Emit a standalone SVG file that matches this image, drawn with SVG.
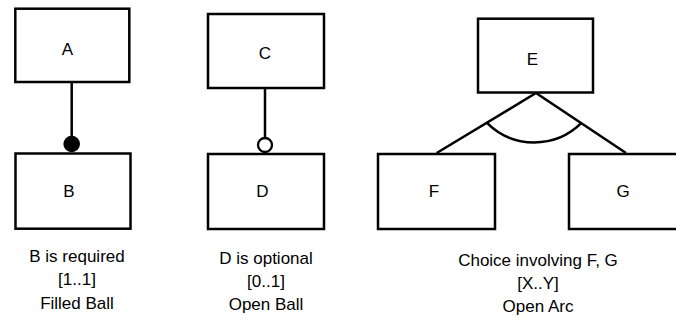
<svg xmlns="http://www.w3.org/2000/svg" width="676" height="322" viewBox="0 0 676 322">
  <style>
    .box { fill: #ffffff; stroke: #000000; stroke-width: 2.5; }
    .edge { fill: none; stroke: #000000; stroke-width: 2.5; }
    .name { font-family: "Liberation Sans", Arial, sans-serif; font-size: 17px; fill: #000000; text-anchor: middle; }
    .note { font-family: "Liberation Sans", Arial, sans-serif; font-size: 17px; fill: #000000; text-anchor: middle; }
  </style>
  <rect width="676" height="322" fill="#ffffff"/>

  <!-- connectors -->
  <g id="connectors">
    <!-- mandatory: filled ball -->
    <line class="edge" x1="71.7" y1="82" x2="71.7" y2="144"/>
    <circle cx="71.7" cy="144" r="8.3" fill="#000000"/>
    <!-- optional: open ball -->
    <line class="edge" x1="265" y1="88" x2="265" y2="138"/>
    <circle cx="265" cy="145" r="7" fill="#ffffff" stroke="#000000" stroke-width="2.3"/>
    <!-- alternative group: two branches and an open arc -->
    <path class="edge" d="M436.7,153 L536,93 L626,153"/>
    <path class="edge" d="M486.7,122.7 A67,67 0 0,0 581.7,122.7"/>
  </g>

  <g id="node-A">
    <rect class="box" x="15.3" y="8.7" width="114" height="73.3"/>
    <text class="name" x="67.5" y="55">A</text>
  </g>
  <g id="node-B">
    <rect class="box" x="15.5" y="153.5" width="115" height="75.2"/>
    <text class="name" x="69" y="197">B</text>
  </g>
  <g id="node-C">
    <rect class="box" x="208" y="14" width="116" height="74"/>
    <text class="name" x="265" y="59">C</text>
  </g>
  <g id="node-D">
    <rect class="box" x="208" y="154" width="116" height="75"/>
    <text class="name" x="262.5" y="197">D</text>
  </g>
  <g id="node-E">
    <rect class="box" x="478" y="18.7" width="115" height="73.8"/>
    <text class="name" x="532.5" y="65">E</text>
  </g>
  <g id="node-F">
    <rect class="box" x="378" y="154" width="117" height="75"/>
    <text class="name" x="434" y="197">F</text>
  </g>
  <g id="node-G">
    <rect class="box" x="569" y="154" width="117" height="75"/>
    <text class="name" x="623" y="197">G</text>
  </g>

  <g id="caption-required">
    <text class="note" x="77" y="262">B is required</text>
    <text class="note" x="77" y="285">[1..1]</text>
    <text class="note" x="77" y="308.5">Filled Ball</text>
  </g>
  <g id="caption-optional">
    <text class="note" x="266" y="264">D is optional</text>
    <text class="note" x="266" y="287">[0..1]</text>
    <text class="note" x="266" y="310">Open Ball</text>
  </g>
  <g id="caption-choice">
    <text class="note" x="538" y="266">Choice involving F, G</text>
    <text class="note" x="538" y="289">[X..Y]</text>
    <text class="note" x="538" y="312">Open Arc</text>
  </g>
</svg>
